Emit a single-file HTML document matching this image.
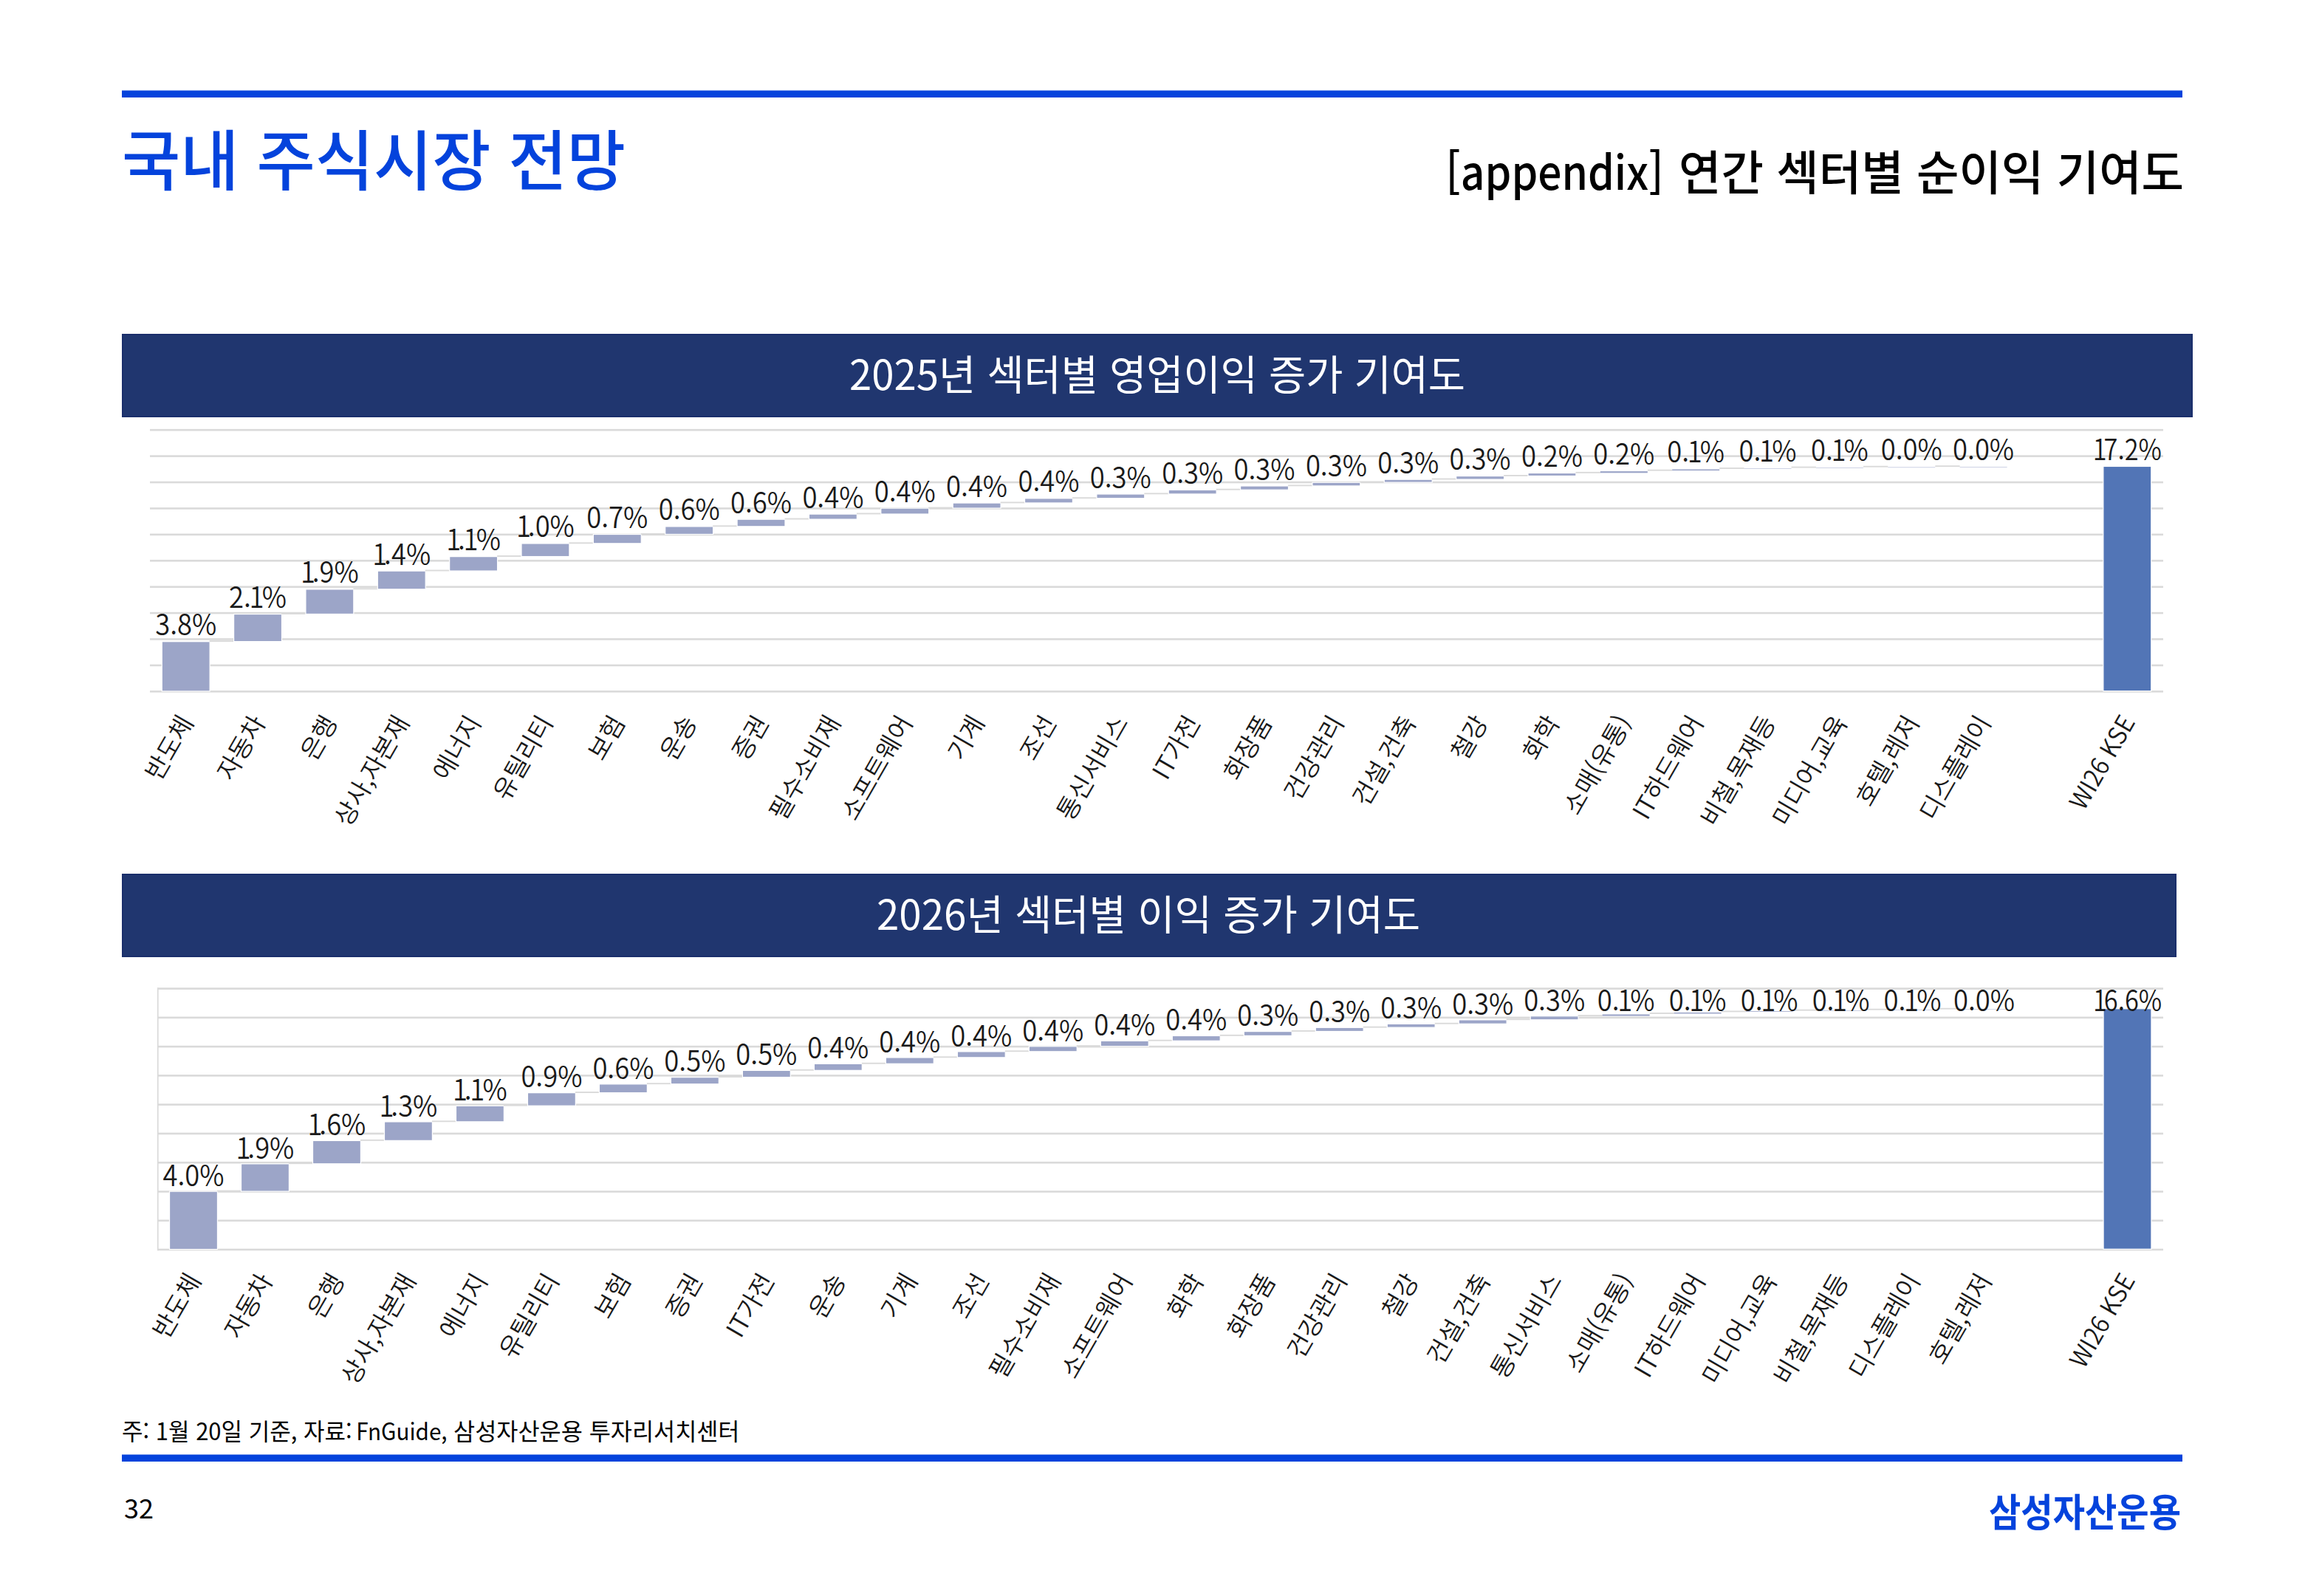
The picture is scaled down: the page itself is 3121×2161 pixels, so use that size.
<!DOCTYPE html><html lang="ko"><head><meta charset="utf-8"><title>국내 주식시장 전망</title>
<style>html,body{margin:0;padding:0;background:#fff}body{width:3121px;height:2161px;overflow:hidden}svg{display:block}</style></head><body>
<svg width="3121" height="2161" viewBox="0 0 3121 2161">
<defs><clipPath id="lc"><rect x="211.3" y="0" width="3000" height="2161"/></clipPath></defs>
<rect width="3121" height="2161" fill="#fff"/>
<rect x="165" y="122.5" width="2790" height="9.5" fill="#0443dc"/>
<text x="165" y="250.2" font-size="89" fill="#0443dc" font-weight="500" text-anchor="start" font-family='"Noto Sans CJK KR","Liberation Sans",sans-serif' textLength="682" lengthAdjust="spacingAndGlyphs" >국내 주식시장 전망</text>
<text x="1957.5" y="257" font-size="64" fill="#000" font-weight="500" text-anchor="start" font-family='"Noto Sans CJK KR","Liberation Sans",sans-serif' textLength="295" lengthAdjust="spacingAndGlyphs" >[appendix]</text>
<text x="2957" y="257" font-size="64" fill="#000" font-weight="500" text-anchor="end" font-family='"Noto Sans CJK KR","Liberation Sans",sans-serif' textLength="684" lengthAdjust="spacingAndGlyphs" >연간 섹터별 순이익 기여도</text>
<rect x="166" y="453" width="2802" height="111" fill="#20366f" stroke="#1a2e6b" stroke-width="2"/>
<text x="1567" y="528" font-size="56" fill="#fff" font-weight="400" text-anchor="middle" font-family='"Noto Sans CJK KR","Liberation Sans",sans-serif' textLength="834" lengthAdjust="spacingAndGlyphs" >2025년 섹터별 영업이익 증가 기여도</text>
<rect x="166" y="1184" width="2780" height="111" fill="#20366f" stroke="#1a2e6b" stroke-width="2"/>
<text x="1555" y="1259" font-size="56" fill="#fff" font-weight="400" text-anchor="middle" font-family='"Noto Sans CJK KR","Liberation Sans",sans-serif' textLength="736" lengthAdjust="spacingAndGlyphs" >2026년 섹터별 이익 증가 기여도</text>
<rect x="203" y="580.90" width="2726" height="2.6" fill="#dadada"/>
<rect x="203" y="616.31" width="2726" height="2.6" fill="#dadada"/>
<rect x="203" y="651.72" width="2726" height="2.6" fill="#dadada"/>
<rect x="203" y="687.13" width="2726" height="2.6" fill="#dadada"/>
<rect x="203" y="722.54" width="2726" height="2.6" fill="#dadada"/>
<rect x="203" y="757.95" width="2726" height="2.6" fill="#dadada"/>
<rect x="203" y="793.36" width="2726" height="2.6" fill="#dadada"/>
<rect x="203" y="828.77" width="2726" height="2.6" fill="#dadada"/>
<rect x="203" y="864.18" width="2726" height="2.6" fill="#dadada"/>
<rect x="203" y="899.59" width="2726" height="2.6" fill="#dadada"/>
<rect x="203" y="935.00" width="2726" height="2.6" fill="#dadada"/>
<rect x="219.23" y="868.72" width="64.9" height="67.18" fill="#9ca5c8" stroke="#fff" stroke-width="1.2"/>
<rect x="283.68" y="867.12" width="33.36" height="1.9" fill="#dadada"/>
<rect x="316.59" y="831.54" width="64.9" height="37.08" fill="#9ca5c8" stroke="#fff" stroke-width="1.2"/>
<rect x="381.04" y="829.94" width="33.36" height="1.9" fill="#dadada"/>
<rect x="413.94" y="797.90" width="64.9" height="33.54" fill="#9ca5c8" stroke="#fff" stroke-width="1.2"/>
<rect x="478.39" y="796.30" width="33.36" height="1.9" fill="#dadada"/>
<rect x="511.30" y="773.11" width="64.9" height="24.69" fill="#9ca5c8" stroke="#fff" stroke-width="1.2"/>
<rect x="575.75" y="771.51" width="33.36" height="1.9" fill="#dadada"/>
<rect x="608.66" y="753.64" width="64.9" height="19.38" fill="#9ca5c8" stroke="#fff" stroke-width="1.2"/>
<rect x="673.11" y="752.04" width="33.36" height="1.9" fill="#dadada"/>
<rect x="706.01" y="735.93" width="64.9" height="17.60" fill="#9ca5c8" stroke="#fff" stroke-width="1.2"/>
<rect x="770.46" y="734.33" width="33.36" height="1.9" fill="#dadada"/>
<rect x="803.37" y="723.54" width="64.9" height="12.29" fill="#9ca5c8" stroke="#fff" stroke-width="1.2"/>
<rect x="867.82" y="721.94" width="33.36" height="1.9" fill="#dadada"/>
<rect x="900.73" y="712.92" width="64.9" height="10.52" fill="#9ca5c8" stroke="#fff" stroke-width="1.2"/>
<rect x="965.18" y="711.32" width="33.36" height="1.9" fill="#dadada"/>
<rect x="998.09" y="703.18" width="64.9" height="9.64" fill="#9ca5c8" stroke="#fff" stroke-width="1.2"/>
<rect x="1062.54" y="701.58" width="33.36" height="1.9" fill="#dadada"/>
<rect x="1095.44" y="696.10" width="64.9" height="6.98" fill="#9ca5c8" stroke="#fff" stroke-width="1.2"/>
<rect x="1159.89" y="694.50" width="33.36" height="1.9" fill="#dadada"/>
<rect x="1192.80" y="688.13" width="64.9" height="7.87" fill="#9ca5c8" stroke="#fff" stroke-width="1.2"/>
<rect x="1257.25" y="686.53" width="33.36" height="1.9" fill="#dadada"/>
<rect x="1290.16" y="681.05" width="64.9" height="6.98" fill="#9ca5c8" stroke="#fff" stroke-width="1.2"/>
<rect x="1354.61" y="679.45" width="33.36" height="1.9" fill="#dadada"/>
<rect x="1387.51" y="674.85" width="64.9" height="6.10" fill="#9ca5c8" stroke="#fff" stroke-width="1.2"/>
<rect x="1451.96" y="673.25" width="33.36" height="1.9" fill="#dadada"/>
<rect x="1484.87" y="669.01" width="64.9" height="5.74" fill="#9ca5c8" stroke="#fff" stroke-width="1.2"/>
<rect x="1549.32" y="667.41" width="33.36" height="1.9" fill="#dadada"/>
<rect x="1582.23" y="663.34" width="64.9" height="5.57" fill="#9ca5c8" stroke="#fff" stroke-width="1.2"/>
<rect x="1646.68" y="661.74" width="33.36" height="1.9" fill="#dadada"/>
<rect x="1679.59" y="658.03" width="64.9" height="5.21" fill="#9ca5c8" stroke="#fff" stroke-width="1.2"/>
<rect x="1744.04" y="656.43" width="33.36" height="1.9" fill="#dadada"/>
<rect x="1776.94" y="653.25" width="64.9" height="4.68" fill="#9ca5c8" stroke="#fff" stroke-width="1.2"/>
<rect x="1841.39" y="651.65" width="33.36" height="1.9" fill="#dadada"/>
<rect x="1874.30" y="649.18" width="64.9" height="3.97" fill="#9ca5c8" stroke="#fff" stroke-width="1.2"/>
<rect x="1938.75" y="647.58" width="33.36" height="1.9" fill="#dadada"/>
<rect x="1971.66" y="644.58" width="64.9" height="4.50" fill="#9ca5c8" stroke="#fff" stroke-width="1.2"/>
<rect x="2036.11" y="642.98" width="33.36" height="1.9" fill="#dadada"/>
<rect x="2069.01" y="640.50" width="64.9" height="3.97" fill="#9ca5c8" stroke="#fff" stroke-width="1.2"/>
<rect x="2133.46" y="638.90" width="33.36" height="1.9" fill="#dadada"/>
<rect x="2166.82" y="638.12" width="64" height="2.19" fill="#9ca5c8"/>
<rect x="2230.82" y="635.72" width="33.36" height="1.9" fill="#dadada"/>
<rect x="2264.18" y="635.46" width="64" height="1.66" fill="#9ca5c8"/>
<rect x="2328.18" y="633.06" width="33.36" height="1.9" fill="#dadada"/>
<rect x="2361.54" y="634.04" width="64" height="0.50" fill="#9ca5c8"/>
<rect x="2425.54" y="631.64" width="33.36" height="1.9" fill="#dadada"/>
<rect x="2458.89" y="633.16" width="64" height="0.50" fill="#9ca5c8"/>
<rect x="2522.89" y="630.76" width="33.36" height="1.9" fill="#dadada"/>
<rect x="2556.25" y="632.63" width="64" height="0.50" fill="#9ca5c8"/>
<rect x="2620.25" y="630.23" width="33.36" height="1.9" fill="#dadada"/>
<rect x="2653.61" y="632.27" width="64" height="0.50" fill="#9ca5c8"/>
<rect x="2847.87" y="631.47" width="64.9" height="304.13" fill="#5275b6" stroke="#fff" stroke-width="1.2"/>
<g clip-path="url(#lc)"><text transform="translate(251.68,860.22) scale(0.933,1)" font-size="39" fill="#1a1a1a" font-weight="350" text-anchor="middle" font-family='"Noto Sans CJK KR","Liberation Sans",sans-serif'>3.8%</text></g>
<text transform="translate(349.04,823.04) scale(0.933,1)" dx="0 0 -2.5 -3" font-size="39" fill="#1a1a1a" font-weight="350" text-anchor="middle" font-family='"Noto Sans CJK KR","Liberation Sans",sans-serif'>2.1%</text>
<text transform="translate(446.39,789.40) scale(0.933,1)" dx="0 -4.5 0 0" font-size="39" fill="#1a1a1a" font-weight="350" text-anchor="middle" font-family='"Noto Sans CJK KR","Liberation Sans",sans-serif'>1.9%</text>
<text transform="translate(543.75,764.61) scale(0.933,1)" dx="0 -4.5 0 0" font-size="39" fill="#1a1a1a" font-weight="350" text-anchor="middle" font-family='"Noto Sans CJK KR","Liberation Sans",sans-serif'>1.4%</text>
<text transform="translate(641.11,745.14) scale(0.933,1)" dx="0 -4.5 -2.5 -3" font-size="39" fill="#1a1a1a" font-weight="350" text-anchor="middle" font-family='"Noto Sans CJK KR","Liberation Sans",sans-serif'>1.1%</text>
<text transform="translate(738.46,727.43) scale(0.933,1)" dx="0 -4.5 0 0" font-size="39" fill="#1a1a1a" font-weight="350" text-anchor="middle" font-family='"Noto Sans CJK KR","Liberation Sans",sans-serif'>1.0%</text>
<text transform="translate(835.82,715.04) scale(0.933,1)" font-size="39" fill="#1a1a1a" font-weight="350" text-anchor="middle" font-family='"Noto Sans CJK KR","Liberation Sans",sans-serif'>0.7%</text>
<text transform="translate(933.18,704.42) scale(0.933,1)" font-size="39" fill="#1a1a1a" font-weight="350" text-anchor="middle" font-family='"Noto Sans CJK KR","Liberation Sans",sans-serif'>0.6%</text>
<text transform="translate(1030.54,694.68) scale(0.933,1)" font-size="39" fill="#1a1a1a" font-weight="350" text-anchor="middle" font-family='"Noto Sans CJK KR","Liberation Sans",sans-serif'>0.6%</text>
<text transform="translate(1127.89,687.60) scale(0.933,1)" font-size="39" fill="#1a1a1a" font-weight="350" text-anchor="middle" font-family='"Noto Sans CJK KR","Liberation Sans",sans-serif'>0.4%</text>
<text transform="translate(1225.25,679.63) scale(0.933,1)" font-size="39" fill="#1a1a1a" font-weight="350" text-anchor="middle" font-family='"Noto Sans CJK KR","Liberation Sans",sans-serif'>0.4%</text>
<text transform="translate(1322.61,672.55) scale(0.933,1)" font-size="39" fill="#1a1a1a" font-weight="350" text-anchor="middle" font-family='"Noto Sans CJK KR","Liberation Sans",sans-serif'>0.4%</text>
<text transform="translate(1419.96,666.35) scale(0.933,1)" font-size="39" fill="#1a1a1a" font-weight="350" text-anchor="middle" font-family='"Noto Sans CJK KR","Liberation Sans",sans-serif'>0.4%</text>
<text transform="translate(1517.32,660.51) scale(0.933,1)" font-size="39" fill="#1a1a1a" font-weight="350" text-anchor="middle" font-family='"Noto Sans CJK KR","Liberation Sans",sans-serif'>0.3%</text>
<text transform="translate(1614.68,654.84) scale(0.933,1)" font-size="39" fill="#1a1a1a" font-weight="350" text-anchor="middle" font-family='"Noto Sans CJK KR","Liberation Sans",sans-serif'>0.3%</text>
<text transform="translate(1712.04,649.53) scale(0.933,1)" font-size="39" fill="#1a1a1a" font-weight="350" text-anchor="middle" font-family='"Noto Sans CJK KR","Liberation Sans",sans-serif'>0.3%</text>
<text transform="translate(1809.39,644.75) scale(0.933,1)" font-size="39" fill="#1a1a1a" font-weight="350" text-anchor="middle" font-family='"Noto Sans CJK KR","Liberation Sans",sans-serif'>0.3%</text>
<text transform="translate(1906.75,640.68) scale(0.933,1)" font-size="39" fill="#1a1a1a" font-weight="350" text-anchor="middle" font-family='"Noto Sans CJK KR","Liberation Sans",sans-serif'>0.3%</text>
<text transform="translate(2004.11,636.08) scale(0.933,1)" font-size="39" fill="#1a1a1a" font-weight="350" text-anchor="middle" font-family='"Noto Sans CJK KR","Liberation Sans",sans-serif'>0.3%</text>
<text transform="translate(2101.46,632.00) scale(0.933,1)" font-size="39" fill="#1a1a1a" font-weight="350" text-anchor="middle" font-family='"Noto Sans CJK KR","Liberation Sans",sans-serif'>0.2%</text>
<text transform="translate(2198.82,628.82) scale(0.933,1)" font-size="39" fill="#1a1a1a" font-weight="350" text-anchor="middle" font-family='"Noto Sans CJK KR","Liberation Sans",sans-serif'>0.2%</text>
<text transform="translate(2296.18,626.16) scale(0.933,1)" dx="0 0 -2.5 -3" font-size="39" fill="#1a1a1a" font-weight="350" text-anchor="middle" font-family='"Noto Sans CJK KR","Liberation Sans",sans-serif'>0.1%</text>
<text transform="translate(2393.54,624.74) scale(0.933,1)" dx="0 0 -2.5 -3" font-size="39" fill="#1a1a1a" font-weight="350" text-anchor="middle" font-family='"Noto Sans CJK KR","Liberation Sans",sans-serif'>0.1%</text>
<text transform="translate(2490.89,623.86) scale(0.933,1)" dx="0 0 -2.5 -3" font-size="39" fill="#1a1a1a" font-weight="350" text-anchor="middle" font-family='"Noto Sans CJK KR","Liberation Sans",sans-serif'>0.1%</text>
<text transform="translate(2588.25,623.33) scale(0.933,1)" font-size="39" fill="#1a1a1a" font-weight="350" text-anchor="middle" font-family='"Noto Sans CJK KR","Liberation Sans",sans-serif'>0.0%</text>
<text transform="translate(2685.61,622.97) scale(0.933,1)" font-size="39" fill="#1a1a1a" font-weight="350" text-anchor="middle" font-family='"Noto Sans CJK KR","Liberation Sans",sans-serif'>0.0%</text>
<text transform="translate(2880.32,622.97) scale(0.88,1)" dx="0 -4.5 0 0 0" font-size="39" fill="#1a1a1a" font-weight="350" text-anchor="middle" font-family='"Noto Sans CJK KR","Liberation Sans",sans-serif'>17.2%</text>
<text transform="translate(253.68,972.30) rotate(-60)" x="0" y="11" font-size="34" fill="#1a1a1a" font-weight="350" text-anchor="end" font-family='"Noto Sans CJK KR","Liberation Sans",sans-serif'>반도체</text>
<text transform="translate(351.04,972.30) rotate(-60)" x="0" y="11" font-size="34" fill="#1a1a1a" font-weight="350" text-anchor="end" font-family='"Noto Sans CJK KR","Liberation Sans",sans-serif'>자동차</text>
<text transform="translate(448.39,972.30) rotate(-60)" x="0" y="11" font-size="34" fill="#1a1a1a" font-weight="350" text-anchor="end" font-family='"Noto Sans CJK KR","Liberation Sans",sans-serif'>은행</text>
<text transform="translate(545.75,972.30) rotate(-60)" x="0" y="11" font-size="34" fill="#1a1a1a" font-weight="350" text-anchor="end" font-family='"Noto Sans CJK KR","Liberation Sans",sans-serif'>상사,자본재</text>
<text transform="translate(643.11,972.30) rotate(-60)" x="0" y="11" font-size="34" fill="#1a1a1a" font-weight="350" text-anchor="end" font-family='"Noto Sans CJK KR","Liberation Sans",sans-serif'>에너지</text>
<text transform="translate(740.46,972.30) rotate(-60)" x="0" y="11" font-size="34" fill="#1a1a1a" font-weight="350" text-anchor="end" font-family='"Noto Sans CJK KR","Liberation Sans",sans-serif'>유틸리티</text>
<text transform="translate(837.82,972.30) rotate(-60)" x="0" y="11" font-size="34" fill="#1a1a1a" font-weight="350" text-anchor="end" font-family='"Noto Sans CJK KR","Liberation Sans",sans-serif'>보험</text>
<text transform="translate(935.18,972.30) rotate(-60)" x="0" y="11" font-size="34" fill="#1a1a1a" font-weight="350" text-anchor="end" font-family='"Noto Sans CJK KR","Liberation Sans",sans-serif'>운송</text>
<text transform="translate(1032.54,972.30) rotate(-60)" x="0" y="11" font-size="34" fill="#1a1a1a" font-weight="350" text-anchor="end" font-family='"Noto Sans CJK KR","Liberation Sans",sans-serif'>증권</text>
<text transform="translate(1129.89,972.30) rotate(-60)" x="0" y="11" font-size="34" fill="#1a1a1a" font-weight="350" text-anchor="end" font-family='"Noto Sans CJK KR","Liberation Sans",sans-serif'>필수소비재</text>
<text transform="translate(1227.25,972.30) rotate(-60)" x="0" y="11" font-size="34" fill="#1a1a1a" font-weight="350" text-anchor="end" font-family='"Noto Sans CJK KR","Liberation Sans",sans-serif'>소프트웨어</text>
<text transform="translate(1324.61,972.30) rotate(-60)" x="0" y="11" font-size="34" fill="#1a1a1a" font-weight="350" text-anchor="end" font-family='"Noto Sans CJK KR","Liberation Sans",sans-serif'>기계</text>
<text transform="translate(1421.96,972.30) rotate(-60)" x="0" y="11" font-size="34" fill="#1a1a1a" font-weight="350" text-anchor="end" font-family='"Noto Sans CJK KR","Liberation Sans",sans-serif'>조선</text>
<text transform="translate(1519.32,972.30) rotate(-60)" x="0" y="11" font-size="34" fill="#1a1a1a" font-weight="350" text-anchor="end" font-family='"Noto Sans CJK KR","Liberation Sans",sans-serif'>통신서비스</text>
<text transform="translate(1616.68,972.30) rotate(-60)" x="0" y="11" font-size="34" fill="#1a1a1a" font-weight="350" text-anchor="end" font-family='"Noto Sans CJK KR","Liberation Sans",sans-serif'>IT가전</text>
<text transform="translate(1714.04,972.30) rotate(-60)" x="0" y="11" font-size="34" fill="#1a1a1a" font-weight="350" text-anchor="end" font-family='"Noto Sans CJK KR","Liberation Sans",sans-serif'>화장품</text>
<text transform="translate(1811.39,972.30) rotate(-60)" x="0" y="11" font-size="34" fill="#1a1a1a" font-weight="350" text-anchor="end" font-family='"Noto Sans CJK KR","Liberation Sans",sans-serif'>건강관리</text>
<text transform="translate(1908.75,972.30) rotate(-60)" x="0" y="11" font-size="34" fill="#1a1a1a" font-weight="350" text-anchor="end" font-family='"Noto Sans CJK KR","Liberation Sans",sans-serif'>건설,건축</text>
<text transform="translate(2006.11,972.30) rotate(-60)" x="0" y="11" font-size="34" fill="#1a1a1a" font-weight="350" text-anchor="end" font-family='"Noto Sans CJK KR","Liberation Sans",sans-serif'>철강</text>
<text transform="translate(2103.46,972.30) rotate(-60)" x="0" y="11" font-size="34" fill="#1a1a1a" font-weight="350" text-anchor="end" font-family='"Noto Sans CJK KR","Liberation Sans",sans-serif'>화학</text>
<text transform="translate(2200.82,972.30) rotate(-60)" x="0" y="11" font-size="34" fill="#1a1a1a" font-weight="350" text-anchor="end" font-family='"Noto Sans CJK KR","Liberation Sans",sans-serif'>소매(유통)</text>
<text transform="translate(2298.18,972.30) rotate(-60)" x="0" y="11" font-size="34" fill="#1a1a1a" font-weight="350" text-anchor="end" font-family='"Noto Sans CJK KR","Liberation Sans",sans-serif'>IT하드웨어</text>
<text transform="translate(2395.54,972.30) rotate(-60)" x="0" y="11" font-size="34" fill="#1a1a1a" font-weight="350" text-anchor="end" font-family='"Noto Sans CJK KR","Liberation Sans",sans-serif'>비철,목재등</text>
<text transform="translate(2492.89,972.30) rotate(-60)" x="0" y="11" font-size="34" fill="#1a1a1a" font-weight="350" text-anchor="end" font-family='"Noto Sans CJK KR","Liberation Sans",sans-serif'>미디어,교육</text>
<text transform="translate(2590.25,972.30) rotate(-60)" x="0" y="11" font-size="34" fill="#1a1a1a" font-weight="350" text-anchor="end" font-family='"Noto Sans CJK KR","Liberation Sans",sans-serif'>호텔,레저</text>
<text transform="translate(2687.61,972.30) rotate(-60)" x="0" y="11" font-size="34" fill="#1a1a1a" font-weight="350" text-anchor="end" font-family='"Noto Sans CJK KR","Liberation Sans",sans-serif'>디스플레이</text>
<text transform="translate(2882.32,972.30) rotate(-60)" x="0" y="11" font-size="34" fill="#1a1a1a" font-weight="350" text-anchor="end" font-family='"Noto Sans CJK KR","Liberation Sans",sans-serif' textLength="140" lengthAdjust="spacingAndGlyphs">WI26 KSE</text>
<rect x="213.5" y="1337.30" width="2715.5" height="2.6" fill="#dadada"/>
<rect x="213.5" y="1376.57" width="2715.5" height="2.6" fill="#dadada"/>
<rect x="213.5" y="1415.83" width="2715.5" height="2.6" fill="#dadada"/>
<rect x="213.5" y="1455.10" width="2715.5" height="2.6" fill="#dadada"/>
<rect x="213.5" y="1494.37" width="2715.5" height="2.6" fill="#dadada"/>
<rect x="213.5" y="1533.63" width="2715.5" height="2.6" fill="#dadada"/>
<rect x="213.5" y="1572.90" width="2715.5" height="2.6" fill="#dadada"/>
<rect x="213.5" y="1612.17" width="2715.5" height="2.6" fill="#dadada"/>
<rect x="213.5" y="1651.43" width="2715.5" height="2.6" fill="#dadada"/>
<rect x="213.5" y="1690.70" width="2715.5" height="2.6" fill="#dadada"/>
<rect x="212.9" y="1337.30" width="1.7" height="356.00" fill="#dadada"/>
<rect x="229.54" y="1613.17" width="64.9" height="78.43" fill="#9ca5c8" stroke="#fff" stroke-width="1.2"/>
<rect x="293.99" y="1611.57" width="32.98" height="1.9" fill="#dadada"/>
<rect x="326.52" y="1575.86" width="64.9" height="37.20" fill="#9ca5c8" stroke="#fff" stroke-width="1.2"/>
<rect x="390.97" y="1574.26" width="32.98" height="1.9" fill="#dadada"/>
<rect x="423.51" y="1544.45" width="64.9" height="31.31" fill="#9ca5c8" stroke="#fff" stroke-width="1.2"/>
<rect x="487.96" y="1542.85" width="32.98" height="1.9" fill="#dadada"/>
<rect x="520.49" y="1518.93" width="64.9" height="25.42" fill="#9ca5c8" stroke="#fff" stroke-width="1.2"/>
<rect x="584.94" y="1517.33" width="32.98" height="1.9" fill="#dadada"/>
<rect x="617.47" y="1497.33" width="64.9" height="21.50" fill="#9ca5c8" stroke="#fff" stroke-width="1.2"/>
<rect x="681.92" y="1495.73" width="32.98" height="1.9" fill="#dadada"/>
<rect x="714.45" y="1479.66" width="64.9" height="17.57" fill="#9ca5c8" stroke="#fff" stroke-width="1.2"/>
<rect x="778.90" y="1478.06" width="32.98" height="1.9" fill="#dadada"/>
<rect x="811.43" y="1467.88" width="64.9" height="11.68" fill="#9ca5c8" stroke="#fff" stroke-width="1.2"/>
<rect x="875.88" y="1466.28" width="32.98" height="1.9" fill="#dadada"/>
<rect x="908.42" y="1458.65" width="64.9" height="9.13" fill="#9ca5c8" stroke="#fff" stroke-width="1.2"/>
<rect x="972.87" y="1457.05" width="32.98" height="1.9" fill="#dadada"/>
<rect x="1005.40" y="1449.42" width="64.9" height="9.13" fill="#9ca5c8" stroke="#fff" stroke-width="1.2"/>
<rect x="1069.85" y="1447.82" width="32.98" height="1.9" fill="#dadada"/>
<rect x="1102.38" y="1440.39" width="64.9" height="8.93" fill="#9ca5c8" stroke="#fff" stroke-width="1.2"/>
<rect x="1166.83" y="1438.79" width="32.98" height="1.9" fill="#dadada"/>
<rect x="1199.36" y="1431.95" width="64.9" height="8.34" fill="#9ca5c8" stroke="#fff" stroke-width="1.2"/>
<rect x="1263.81" y="1430.35" width="32.98" height="1.9" fill="#dadada"/>
<rect x="1296.34" y="1423.90" width="64.9" height="7.95" fill="#9ca5c8" stroke="#fff" stroke-width="1.2"/>
<rect x="1360.79" y="1422.30" width="32.98" height="1.9" fill="#dadada"/>
<rect x="1393.33" y="1416.83" width="64.9" height="6.97" fill="#9ca5c8" stroke="#fff" stroke-width="1.2"/>
<rect x="1457.78" y="1415.23" width="32.98" height="1.9" fill="#dadada"/>
<rect x="1490.31" y="1409.37" width="64.9" height="7.36" fill="#9ca5c8" stroke="#fff" stroke-width="1.2"/>
<rect x="1554.76" y="1407.77" width="32.98" height="1.9" fill="#dadada"/>
<rect x="1587.29" y="1402.50" width="64.9" height="6.77" fill="#9ca5c8" stroke="#fff" stroke-width="1.2"/>
<rect x="1651.74" y="1400.90" width="32.98" height="1.9" fill="#dadada"/>
<rect x="1684.27" y="1396.61" width="64.9" height="5.79" fill="#9ca5c8" stroke="#fff" stroke-width="1.2"/>
<rect x="1748.72" y="1395.01" width="32.98" height="1.9" fill="#dadada"/>
<rect x="1781.26" y="1391.31" width="64.9" height="5.20" fill="#9ca5c8" stroke="#fff" stroke-width="1.2"/>
<rect x="1845.71" y="1389.71" width="32.98" height="1.9" fill="#dadada"/>
<rect x="1878.24" y="1386.40" width="64.9" height="4.81" fill="#9ca5c8" stroke="#fff" stroke-width="1.2"/>
<rect x="1942.69" y="1384.80" width="32.98" height="1.9" fill="#dadada"/>
<rect x="1975.22" y="1380.90" width="64.9" height="5.40" fill="#9ca5c8" stroke="#fff" stroke-width="1.2"/>
<rect x="2039.67" y="1379.30" width="32.98" height="1.9" fill="#dadada"/>
<rect x="2072.20" y="1375.80" width="64.9" height="5.00" fill="#9ca5c8" stroke="#fff" stroke-width="1.2"/>
<rect x="2136.65" y="1374.20" width="32.98" height="1.9" fill="#dadada"/>
<rect x="2169.63" y="1373.46" width="64" height="2.14" fill="#9ca5c8"/>
<rect x="2233.63" y="1371.06" width="32.98" height="1.9" fill="#dadada"/>
<rect x="2266.62" y="1370.91" width="64" height="1.55" fill="#9ca5c8"/>
<rect x="2330.62" y="1368.51" width="32.98" height="1.9" fill="#dadada"/>
<rect x="2363.60" y="1369.14" width="64" height="0.77" fill="#9ca5c8"/>
<rect x="2427.60" y="1366.74" width="32.98" height="1.9" fill="#dadada"/>
<rect x="2460.58" y="1368.16" width="64" height="0.50" fill="#9ca5c8"/>
<rect x="2524.58" y="1365.76" width="32.98" height="1.9" fill="#dadada"/>
<rect x="2557.56" y="1367.18" width="64" height="0.50" fill="#9ca5c8"/>
<rect x="2621.56" y="1364.78" width="32.98" height="1.9" fill="#dadada"/>
<rect x="2654.54" y="1366.59" width="64" height="0.50" fill="#9ca5c8"/>
<rect x="2848.06" y="1365.79" width="64.9" height="325.51" fill="#5275b6" stroke="#fff" stroke-width="1.2"/>
<text transform="translate(261.99,1605.97) scale(0.933,1)" font-size="39" fill="#1a1a1a" font-weight="350" text-anchor="middle" font-family='"Noto Sans CJK KR","Liberation Sans",sans-serif'>4.0%</text>
<text transform="translate(358.97,1568.66) scale(0.933,1)" dx="0 -4.5 0 0" font-size="39" fill="#1a1a1a" font-weight="350" text-anchor="middle" font-family='"Noto Sans CJK KR","Liberation Sans",sans-serif'>1.9%</text>
<text transform="translate(455.96,1537.25) scale(0.933,1)" dx="0 -4.5 0 0" font-size="39" fill="#1a1a1a" font-weight="350" text-anchor="middle" font-family='"Noto Sans CJK KR","Liberation Sans",sans-serif'>1.6%</text>
<text transform="translate(552.94,1511.73) scale(0.933,1)" dx="0 -4.5 0 0" font-size="39" fill="#1a1a1a" font-weight="350" text-anchor="middle" font-family='"Noto Sans CJK KR","Liberation Sans",sans-serif'>1.3%</text>
<text transform="translate(649.92,1490.13) scale(0.933,1)" dx="0 -4.5 -2.5 -3" font-size="39" fill="#1a1a1a" font-weight="350" text-anchor="middle" font-family='"Noto Sans CJK KR","Liberation Sans",sans-serif'>1.1%</text>
<text transform="translate(746.90,1472.46) scale(0.933,1)" font-size="39" fill="#1a1a1a" font-weight="350" text-anchor="middle" font-family='"Noto Sans CJK KR","Liberation Sans",sans-serif'>0.9%</text>
<text transform="translate(843.88,1460.68) scale(0.933,1)" font-size="39" fill="#1a1a1a" font-weight="350" text-anchor="middle" font-family='"Noto Sans CJK KR","Liberation Sans",sans-serif'>0.6%</text>
<text transform="translate(940.87,1451.45) scale(0.933,1)" font-size="39" fill="#1a1a1a" font-weight="350" text-anchor="middle" font-family='"Noto Sans CJK KR","Liberation Sans",sans-serif'>0.5%</text>
<text transform="translate(1037.85,1442.22) scale(0.933,1)" font-size="39" fill="#1a1a1a" font-weight="350" text-anchor="middle" font-family='"Noto Sans CJK KR","Liberation Sans",sans-serif'>0.5%</text>
<text transform="translate(1134.83,1433.19) scale(0.933,1)" font-size="39" fill="#1a1a1a" font-weight="350" text-anchor="middle" font-family='"Noto Sans CJK KR","Liberation Sans",sans-serif'>0.4%</text>
<text transform="translate(1231.81,1424.75) scale(0.933,1)" font-size="39" fill="#1a1a1a" font-weight="350" text-anchor="middle" font-family='"Noto Sans CJK KR","Liberation Sans",sans-serif'>0.4%</text>
<text transform="translate(1328.79,1416.70) scale(0.933,1)" font-size="39" fill="#1a1a1a" font-weight="350" text-anchor="middle" font-family='"Noto Sans CJK KR","Liberation Sans",sans-serif'>0.4%</text>
<text transform="translate(1425.78,1409.63) scale(0.933,1)" font-size="39" fill="#1a1a1a" font-weight="350" text-anchor="middle" font-family='"Noto Sans CJK KR","Liberation Sans",sans-serif'>0.4%</text>
<text transform="translate(1522.76,1402.17) scale(0.933,1)" font-size="39" fill="#1a1a1a" font-weight="350" text-anchor="middle" font-family='"Noto Sans CJK KR","Liberation Sans",sans-serif'>0.4%</text>
<text transform="translate(1619.74,1395.30) scale(0.933,1)" font-size="39" fill="#1a1a1a" font-weight="350" text-anchor="middle" font-family='"Noto Sans CJK KR","Liberation Sans",sans-serif'>0.4%</text>
<text transform="translate(1716.72,1389.41) scale(0.933,1)" font-size="39" fill="#1a1a1a" font-weight="350" text-anchor="middle" font-family='"Noto Sans CJK KR","Liberation Sans",sans-serif'>0.3%</text>
<text transform="translate(1813.71,1384.11) scale(0.933,1)" font-size="39" fill="#1a1a1a" font-weight="350" text-anchor="middle" font-family='"Noto Sans CJK KR","Liberation Sans",sans-serif'>0.3%</text>
<text transform="translate(1910.69,1379.20) scale(0.933,1)" font-size="39" fill="#1a1a1a" font-weight="350" text-anchor="middle" font-family='"Noto Sans CJK KR","Liberation Sans",sans-serif'>0.3%</text>
<text transform="translate(2007.67,1373.70) scale(0.933,1)" font-size="39" fill="#1a1a1a" font-weight="350" text-anchor="middle" font-family='"Noto Sans CJK KR","Liberation Sans",sans-serif'>0.3%</text>
<text transform="translate(2104.65,1368.80) scale(0.933,1)" font-size="39" fill="#1a1a1a" font-weight="350" text-anchor="middle" font-family='"Noto Sans CJK KR","Liberation Sans",sans-serif'>0.3%</text>
<text transform="translate(2201.63,1368.80) scale(0.933,1)" dx="0 0 -2.5 -3" font-size="39" fill="#1a1a1a" font-weight="350" text-anchor="middle" font-family='"Noto Sans CJK KR","Liberation Sans",sans-serif'>0.1%</text>
<text transform="translate(2298.62,1368.80) scale(0.933,1)" dx="0 0 -2.5 -3" font-size="39" fill="#1a1a1a" font-weight="350" text-anchor="middle" font-family='"Noto Sans CJK KR","Liberation Sans",sans-serif'>0.1%</text>
<text transform="translate(2395.60,1368.80) scale(0.933,1)" dx="0 0 -2.5 -3" font-size="39" fill="#1a1a1a" font-weight="350" text-anchor="middle" font-family='"Noto Sans CJK KR","Liberation Sans",sans-serif'>0.1%</text>
<text transform="translate(2492.58,1368.80) scale(0.933,1)" dx="0 0 -2.5 -3" font-size="39" fill="#1a1a1a" font-weight="350" text-anchor="middle" font-family='"Noto Sans CJK KR","Liberation Sans",sans-serif'>0.1%</text>
<text transform="translate(2589.56,1368.80) scale(0.933,1)" dx="0 0 -2.5 -3" font-size="39" fill="#1a1a1a" font-weight="350" text-anchor="middle" font-family='"Noto Sans CJK KR","Liberation Sans",sans-serif'>0.1%</text>
<text transform="translate(2686.54,1368.80) scale(0.933,1)" font-size="39" fill="#1a1a1a" font-weight="350" text-anchor="middle" font-family='"Noto Sans CJK KR","Liberation Sans",sans-serif'>0.0%</text>
<text transform="translate(2880.51,1368.80) scale(0.88,1)" dx="0 -4.5 0 0 0" font-size="39" fill="#1a1a1a" font-weight="350" text-anchor="middle" font-family='"Noto Sans CJK KR","Liberation Sans",sans-serif'>16.6%</text>
<text transform="translate(263.99,1728.00) rotate(-60)" x="0" y="11" font-size="34" fill="#1a1a1a" font-weight="350" text-anchor="end" font-family='"Noto Sans CJK KR","Liberation Sans",sans-serif'>반도체</text>
<text transform="translate(360.97,1728.00) rotate(-60)" x="0" y="11" font-size="34" fill="#1a1a1a" font-weight="350" text-anchor="end" font-family='"Noto Sans CJK KR","Liberation Sans",sans-serif'>자동차</text>
<text transform="translate(457.96,1728.00) rotate(-60)" x="0" y="11" font-size="34" fill="#1a1a1a" font-weight="350" text-anchor="end" font-family='"Noto Sans CJK KR","Liberation Sans",sans-serif'>은행</text>
<text transform="translate(554.94,1728.00) rotate(-60)" x="0" y="11" font-size="34" fill="#1a1a1a" font-weight="350" text-anchor="end" font-family='"Noto Sans CJK KR","Liberation Sans",sans-serif'>상사,자본재</text>
<text transform="translate(651.92,1728.00) rotate(-60)" x="0" y="11" font-size="34" fill="#1a1a1a" font-weight="350" text-anchor="end" font-family='"Noto Sans CJK KR","Liberation Sans",sans-serif'>에너지</text>
<text transform="translate(748.90,1728.00) rotate(-60)" x="0" y="11" font-size="34" fill="#1a1a1a" font-weight="350" text-anchor="end" font-family='"Noto Sans CJK KR","Liberation Sans",sans-serif'>유틸리티</text>
<text transform="translate(845.88,1728.00) rotate(-60)" x="0" y="11" font-size="34" fill="#1a1a1a" font-weight="350" text-anchor="end" font-family='"Noto Sans CJK KR","Liberation Sans",sans-serif'>보험</text>
<text transform="translate(942.87,1728.00) rotate(-60)" x="0" y="11" font-size="34" fill="#1a1a1a" font-weight="350" text-anchor="end" font-family='"Noto Sans CJK KR","Liberation Sans",sans-serif'>증권</text>
<text transform="translate(1039.85,1728.00) rotate(-60)" x="0" y="11" font-size="34" fill="#1a1a1a" font-weight="350" text-anchor="end" font-family='"Noto Sans CJK KR","Liberation Sans",sans-serif'>IT가전</text>
<text transform="translate(1136.83,1728.00) rotate(-60)" x="0" y="11" font-size="34" fill="#1a1a1a" font-weight="350" text-anchor="end" font-family='"Noto Sans CJK KR","Liberation Sans",sans-serif'>운송</text>
<text transform="translate(1233.81,1728.00) rotate(-60)" x="0" y="11" font-size="34" fill="#1a1a1a" font-weight="350" text-anchor="end" font-family='"Noto Sans CJK KR","Liberation Sans",sans-serif'>기계</text>
<text transform="translate(1330.79,1728.00) rotate(-60)" x="0" y="11" font-size="34" fill="#1a1a1a" font-weight="350" text-anchor="end" font-family='"Noto Sans CJK KR","Liberation Sans",sans-serif'>조선</text>
<text transform="translate(1427.78,1728.00) rotate(-60)" x="0" y="11" font-size="34" fill="#1a1a1a" font-weight="350" text-anchor="end" font-family='"Noto Sans CJK KR","Liberation Sans",sans-serif'>필수소비재</text>
<text transform="translate(1524.76,1728.00) rotate(-60)" x="0" y="11" font-size="34" fill="#1a1a1a" font-weight="350" text-anchor="end" font-family='"Noto Sans CJK KR","Liberation Sans",sans-serif'>소프트웨어</text>
<text transform="translate(1621.74,1728.00) rotate(-60)" x="0" y="11" font-size="34" fill="#1a1a1a" font-weight="350" text-anchor="end" font-family='"Noto Sans CJK KR","Liberation Sans",sans-serif'>화학</text>
<text transform="translate(1718.72,1728.00) rotate(-60)" x="0" y="11" font-size="34" fill="#1a1a1a" font-weight="350" text-anchor="end" font-family='"Noto Sans CJK KR","Liberation Sans",sans-serif'>화장품</text>
<text transform="translate(1815.71,1728.00) rotate(-60)" x="0" y="11" font-size="34" fill="#1a1a1a" font-weight="350" text-anchor="end" font-family='"Noto Sans CJK KR","Liberation Sans",sans-serif'>건강관리</text>
<text transform="translate(1912.69,1728.00) rotate(-60)" x="0" y="11" font-size="34" fill="#1a1a1a" font-weight="350" text-anchor="end" font-family='"Noto Sans CJK KR","Liberation Sans",sans-serif'>철강</text>
<text transform="translate(2009.67,1728.00) rotate(-60)" x="0" y="11" font-size="34" fill="#1a1a1a" font-weight="350" text-anchor="end" font-family='"Noto Sans CJK KR","Liberation Sans",sans-serif'>건설,건축</text>
<text transform="translate(2106.65,1728.00) rotate(-60)" x="0" y="11" font-size="34" fill="#1a1a1a" font-weight="350" text-anchor="end" font-family='"Noto Sans CJK KR","Liberation Sans",sans-serif'>통신서비스</text>
<text transform="translate(2203.63,1728.00) rotate(-60)" x="0" y="11" font-size="34" fill="#1a1a1a" font-weight="350" text-anchor="end" font-family='"Noto Sans CJK KR","Liberation Sans",sans-serif'>소매(유통)</text>
<text transform="translate(2300.62,1728.00) rotate(-60)" x="0" y="11" font-size="34" fill="#1a1a1a" font-weight="350" text-anchor="end" font-family='"Noto Sans CJK KR","Liberation Sans",sans-serif'>IT하드웨어</text>
<text transform="translate(2397.60,1728.00) rotate(-60)" x="0" y="11" font-size="34" fill="#1a1a1a" font-weight="350" text-anchor="end" font-family='"Noto Sans CJK KR","Liberation Sans",sans-serif'>미디어,교육</text>
<text transform="translate(2494.58,1728.00) rotate(-60)" x="0" y="11" font-size="34" fill="#1a1a1a" font-weight="350" text-anchor="end" font-family='"Noto Sans CJK KR","Liberation Sans",sans-serif'>비철,목재등</text>
<text transform="translate(2591.56,1728.00) rotate(-60)" x="0" y="11" font-size="34" fill="#1a1a1a" font-weight="350" text-anchor="end" font-family='"Noto Sans CJK KR","Liberation Sans",sans-serif'>디스플레이</text>
<text transform="translate(2688.54,1728.00) rotate(-60)" x="0" y="11" font-size="34" fill="#1a1a1a" font-weight="350" text-anchor="end" font-family='"Noto Sans CJK KR","Liberation Sans",sans-serif'>호텔,레저</text>
<text transform="translate(2882.51,1728.00) rotate(-60)" x="0" y="11" font-size="34" fill="#1a1a1a" font-weight="350" text-anchor="end" font-family='"Noto Sans CJK KR","Liberation Sans",sans-serif' textLength="140" lengthAdjust="spacingAndGlyphs">WI26 KSE</text>
<text y="1950" font-size="32" fill="#000" font-weight="400" font-family='"Noto Sans CJK KR","Liberation Sans",sans-serif'><tspan x="165" textLength="311.6" lengthAdjust="spacingAndGlyphs">주: 1월 20일 기준, 자료:</tspan><tspan x="482.2" textLength="123.4" lengthAdjust="spacingAndGlyphs">FnGuide,</tspan><tspan x="614.1" textLength="387.4" lengthAdjust="spacingAndGlyphs">삼성자산운용 투자리서치센터</tspan></text>
<rect x="165" y="1969.5" width="2790" height="9.5" fill="#0443dc"/>
<text x="168" y="2056" font-size="36" fill="#000" font-weight="400" text-anchor="start" font-family='"Noto Sans CJK KR","Liberation Sans",sans-serif' >32</text>
<text x="2953" y="2067" font-size="52" fill="#0443dc" font-weight="700" text-anchor="end" font-family='"Noto Sans CJK KR","Liberation Sans",sans-serif' textLength="260" lengthAdjust="spacingAndGlyphs" >삼성자산운용</text>
</svg></body></html>
